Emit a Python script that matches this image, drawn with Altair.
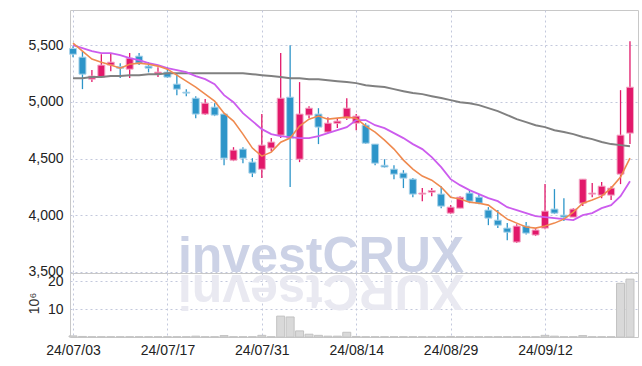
import altair as alt
import pandas as pd

# ---- data ----
dates = ["24/07/03", "24/07/04", "24/07/05", "24/07/08", "24/07/09", "24/07/10", "24/07/11", "24/07/12",
         "24/07/15", "24/07/16", "24/07/17", "24/07/18", "24/07/19", "24/07/22", "24/07/23", "24/07/24",
         "24/07/25", "24/07/26", "24/07/29", "24/07/30", "24/07/31", "24/08/01", "24/08/02", "24/08/05",
         "24/08/06", "24/08/07", "24/08/08", "24/08/09", "24/08/12", "24/08/13", "24/08/14", "24/08/16",
         "24/08/19", "24/08/20", "24/08/21", "24/08/22", "24/08/23", "24/08/26", "24/08/27", "24/08/28",
         "24/08/29", "24/08/30", "24/09/02", "24/09/03", "24/09/04", "24/09/05", "24/09/06", "24/09/09",
         "24/09/10", "24/09/11", "24/09/12", "24/09/13", "24/09/19", "24/09/20", "24/09/23", "24/09/24",
         "24/09/25", "24/09/26", "24/09/27", "24/09/30"]

open_ = [5470, 5394, 5200, 5218, 5324, 5310, 5288, 5403, 5315, 5244, 5262, 5156, 5085, 5032, 4892,
         4953, 4892, 4485, 4583, 4468, 4406, 4592, 4706, 5041, 4494, 4883, 4892, 4733, 4810, 4856,
         4812, 4794, 4627, 4440, 4406, 4371, 4318, 4186, 4203, 4186, 4018, 4062, 4195, 4159, 4045,
         3956, 3886, 3763, 3904, 3825, 3886, 4054, 4000, 3983, 4106, 4186, 4177, 4177, 4362, 4724]
close = [5420, 5244, 5227, 5324, 5350, 5295, 5385, 5341, 5297, 5262, 5218, 5112, 5077, 4892, 4988,
         4883, 4503, 4574, 4503, 4371, 4618, 4645, 5032, 4680, 4892, 4944, 4777, 4812, 4830, 4944,
         4874, 4635, 4459, 4425, 4362, 4327, 4186, 4195, 4218, 4080, 4071, 4159, 4124, 4106, 3974,
         3912, 3850, 3904, 3842, 3869, 4036, 4018, 3983, 4054, 4318, 4195, 4256, 4239, 4706, 5129]
high = [5491, 5447, 5280, 5420, 5430, 5340, 5430, 5430, 5350, 5306, 5306, 5244, 5112, 5050, 5024,
        4988, 4900, 4600, 4600, 4503, 4892, 4680, 5430, 5500, 5174, 4962, 4944, 4865, 4850, 5032,
        4892, 4812, 4627, 4494, 4441, 4397, 4327, 4239, 4239, 4256, 4089, 4168, 4220, 4186, 4071,
        4045, 3930, 3921, 3940, 3886, 4274, 4230, 4150, 4062, 4318, 4283, 4292, 4256, 5103, 5535]
low = [5394, 5112, 5174, 5210, 5270, 5210, 5210, 5324, 5260, 5218, 5210, 5059, 5050, 4856, 4883,
       4874, 4441, 4477, 4459, 4336, 4327, 4565, 4680, 4248, 4468, 4856, 4627, 4724, 4770, 4839,
       4750, 4627, 4441, 4420, 4318, 4239, 4159, 4124, 4168, 4062, 4010, 4062, 4106, 4097, 3912,
       3886, 3780, 3754, 3830, 3816, 3877, 4010, 3948, 3983, 4080, 4159, 4150, 4133, 4274, 4627]
ma5 = [5518, 5447, 5377, 5350, 5324, 5297, 5332, 5341, 5332, 5315, 5288, 5235, 5182, 5130, 5068,
       5006, 4900, 4830, 4715, 4592, 4521, 4556, 4644, 4680, 4786, 4847, 4874, 4847, 4856, 4865,
       4856, 4786, 4733, 4662, 4583, 4486, 4406, 4345, 4309, 4248, 4159, 4142, 4115, 4106, 4089,
       4027, 3965, 3930, 3895, 3886, 3904, 3930, 3965, 4027, 4106, 4133, 4168, 4239, 4336, 4503]
ma20 = [5500, 5474, 5447, 5430, 5430, 5412, 5385, 5368, 5341, 5324, 5297, 5280, 5262, 5227, 5200,
        5156, 5059, 4997, 4900, 4830, 4759, 4715, 4697, 4689, 4680, 4680, 4697, 4724, 4750, 4777,
        4839, 4839, 4794, 4768, 4724, 4680, 4627, 4583, 4512, 4424, 4318, 4265, 4221, 4186, 4150,
        4124, 4071, 4045, 4018, 3992, 3983, 3974, 3965, 3957, 4000, 4018, 4062, 4089, 4168, 4300]
ma120 = [5209, 5209, 5218, 5218, 5227, 5227, 5235, 5235, 5244, 5244, 5253, 5253, 5253, 5253, 5253,
         5253, 5253, 5253, 5253, 5244, 5235, 5227, 5218, 5209, 5209, 5200, 5200, 5191, 5182, 5174,
         5165, 5147, 5138, 5130, 5112, 5094, 5077, 5068, 5050, 5033, 5015, 4997, 4988, 4971, 4944,
         4918, 4883, 4847, 4821, 4794, 4777, 4750, 4733, 4715, 4689, 4671, 4645, 4627, 4618, 4609]
volume = [0.4, 0.2, 0.1, 0.1, 0.1, 0.1, 0.1, 0.1, 0.1, 0.1, 0.1, 0.1, 0.1, 0.3, 0.1,
          0.1, 0.5, 0.1, 0.1, 0.1, 0.6, 0.1, 7.5, 7.2, 2.2, 1.0, 0.6, 0.3, 0.3, 1.7,
          0.2, 0.1, 0.1, 0.1, 0.1, 0.1, 0.1, 0.1, 0.1, 0.1, 0.2, 0.1, 0.1, 0.1, 0.1,
          0.1, 0.1, 0.1, 0.1, 0.1, 0.6, 0.3, 0.1, 0.1, 0.5, 0.1, 0.1, 0.1, 19.3, 20.8]

tick_idx = [0, 10, 20, 30, 40, 50]
price_ticks = [3500, 4000, 4500, 5000, 5500]
vol_ticks = [10, 20]

df = pd.DataFrame({
    "i": list(range(len(dates))), "date": dates, "open": open_, "close": close,
    "high": high, "low": low, "ma5": ma5, "ma20": ma20, "ma120": ma120, "vol": volume,
})
df["dir"] = ["up" if c >= o else "down" for o, c in zip(open_, close)]

FONT = "Liberation Sans"
GRID = dict(grid=True, gridColor="#c3c8dc", gridDash=[2, 3], gridWidth=1)

xscale = alt.Scale(domain=[-0.32, 59.85], nice=False, zero=False, padding=0)
label_expr = "[" + ",".join("'%s'" % dates[k] for k in tick_idx) + "][round(datum.value/10)]"

x_main = alt.X("i:Q", scale=xscale, title=None,
               axis=alt.Axis(values=tick_idx, labels=False, ticks=False, domain=False, **GRID))
x_vol = alt.X("i:Q", scale=xscale, title=None,
              axis=alt.Axis(values=tick_idx, labelExpr=label_expr, ticks=False, domain=False,
                            labelFont=FONT, labelFontSize=14, labelColor="#222222",
                            labelPadding=6, **GRID))

yscale = alt.Scale(domain=[3490, 5810], nice=False, zero=False, padding=0)
y_axis = alt.Axis(values=price_ticks, labelExpr="format(datum.value, ',d')", ticks=False, domain=False,
                  labelFont=FONT, labelFontSize=14, labelColor="#222222", labelPadding=7, **GRID)

color_scale = alt.Scale(domain=["up", "down"], range=["#e2186a", "#2d95c9"])
stroke_scale = alt.Scale(domain=["up", "down"], range=["#f3a9c6", "#a9d3ea"])

base = alt.Chart(df)

watermark = alt.Chart(pd.DataFrame({"t": ["investCRUX"]})).mark_text(
    font="Liberation Sans", fontSize=50, fontWeight="bold", color="#ccd2e6",
    align="center", baseline="alphabetic"
).encode(x=alt.value(251), y=alt.value(262), text="t:N")

wicks = base.mark_rule(strokeWidth=1.3).encode(
    x=x_main,
    y=alt.Y("low:Q", scale=yscale, axis=y_axis, title=None),
    y2="high:Q",
    color=alt.Color("dir:N", scale=color_scale, legend=None),
)
bodies = base.mark_bar(size=7, strokeWidth=1).encode(
    x=x_main,
    y=alt.Y("open:Q", scale=yscale, title=None),
    y2="close:Q",
    color=alt.Color("dir:N", scale=color_scale, legend=None),
    stroke=alt.Stroke("dir:N", scale=stroke_scale, legend=None),
)
line120 = base.mark_line(color="#808080", strokeWidth=2).encode(
    x=x_main, y=alt.Y("ma120:Q", scale=yscale, title=None))
line20 = base.mark_line(color="#cc5cee", strokeWidth=1.8).encode(
    x=x_main, y=alt.Y("ma20:Q", scale=yscale, title=None))
line5 = base.mark_line(color="#ef8a4f", strokeWidth=1.6).encode(
    x=x_main, y=alt.Y("ma5:Q", scale=yscale, title=None))

main = alt.layer(watermark, wicks, bodies, line120, line20, line5).properties(width=568, height=263)

reflection = alt.Chart(pd.DataFrame({"t": ["XURCtsevni"]})).mark_text(
    font="Liberation Sans", fontSize=50, fontWeight="bold", color="#e9e9f1",
    align="center", baseline="alphabetic", angle=180
).encode(x=alt.value(251), y=alt.value(2), text="t:N")

vbars = base.mark_bar(size=8, color="#d9d9d9", stroke="#c2c2c2", strokeWidth=1).encode(
    x=x_vol,
    y=alt.Y("vol:Q", scale=alt.Scale(domain=[0, 23], nice=False, padding=0),
            axis=alt.Axis(values=vol_ticks, ticks=False, domain=False,
                          labelFont=FONT, labelFontSize=14, labelColor="#222222", labelPadding=7,
                          title="10⁶", titleFont=FONT, titleFontSize=14, titleFontWeight="normal",
                          titleColor="#333333", titleX=-29, titleY=30, titleAngle=270,
                          titleBaseline="bottom", titleAlign="center", **GRID)),
)
vol = alt.layer(reflection, vbars).properties(width=568, height=64)

chart = alt.vconcat(main, vol, spacing=0, bounds="flush").configure_view(
    stroke="#c8c8c8", strokeWidth=1
).properties(padding={"left": 26, "top": 9, "right": 2, "bottom": 0})

chart.save("out.html", embed_options={"renderer": "svg", "actions": False})
